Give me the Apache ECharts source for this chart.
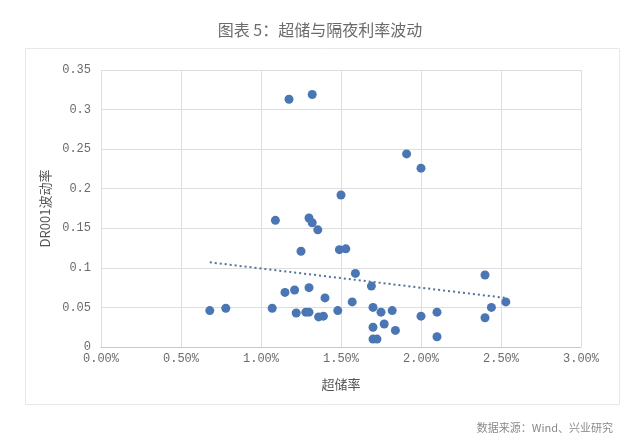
<!DOCTYPE html>
<html>
<head>
<meta charset="utf-8">
<script src="https://cdn.jsdelivr.net/npm/echarts@6/dist/echarts.min.js"></script>
<style>
html,body{margin:0;padding:0;background:#fff;}
#c{width:640px;height:442px;}
</style>
</head>
<body>
<div id="c"></div>
<script>
// 超储率 (%)
var excessReserve = [0.68,0.78,1.07,1.09,1.15,1.175,1.21,1.22,1.25,1.28,1.30,1.30,1.30,1.32,1.32,1.355,1.36,1.39,1.40,1.48,1.49,1.50,1.53,1.57,1.59,1.69,1.70,1.70,1.70,1.725,1.75,1.77,1.82,1.84,1.91,2.00,2.00,2.10,2.10,2.40,2.40,2.44,2.53];
// DR001波动率
var dr001Vol = [0.046,0.049,0.049,0.160,0.069,0.313,0.072,0.043,0.121,0.044,0.044,0.075,0.163,0.157,0.319,0.148,0.038,0.039,0.062,0.046,0.123,0.192,0.124,0.057,0.093,0.077,0.050,0.025,0.010,0.010,0.044,0.029,0.046,0.021,0.244,0.226,0.039,0.044,0.013,0.091,0.037,0.050,0.057];
// 趋势线端点
var trendX = [0.68, 2.53];
var trendY = [0.107, 0.062];

var xTicks = {min:0, max:3, step:0.5};
var yTicks = {min:0, max:0.35, step:0.05};

var titleText = '图表 5：超储与隔夜利率波动';
var sourceText = '数据来源：Wind、兴业研究';
var xName = '超储率';
var yName = 'DR001波动率';

var pts = excessReserve.map(function(x,i){return [x, dr001Vol[i]];});
var trend = trendX.map(function(x,i){return [x, trendY[i]];});

var chart = echarts.init(document.getElementById('c'), null, {renderer:'canvas'});
chart.setOption({
  animation:false,
  backgroundColor:'#fff',
  title:[{
    text:titleText, left:'center', top:17,
    textStyle:{fontSize:16, fontWeight:'normal', color:'#6b6b6b', fontFamily:'Noto Sans CJK SC'}
  },{
    text:sourceText, right:22, top:417,
    textStyle:{fontSize:11, fontWeight:'normal', color:'#8a8a8a', fontFamily:'Noto Sans CJK SC'}
  }],
  graphic:[{
    type:'rect', shape:{x:25.5,y:48.5,width:594,height:356},
    style:{fill:'none', stroke:'#e8e8e8', lineWidth:1}, silent:true, z:-1
  }],
  grid:{left:101, right:59, top:70, bottom:95},
  xAxis:{
    type:'value', min:xTicks.min, max:xTicks.max, interval:xTicks.step,
    name:xName, nameLocation:'middle', nameGap:31,
    nameTextStyle:{fontSize:13, color:'#555', fontFamily:'Noto Sans CJK SC'},
    axisLine:{show:true, lineStyle:{color:'#c8c8c8'}},
    axisTick:{show:false},
    splitLine:{show:true, lineStyle:{color:'#dedede'}},
    axisLabel:{fontSize:12, color:'#6b6b6b', fontFamily:'Liberation Mono', margin:6,
      formatter:function(v){return v.toFixed(2)+'%';}}
  },
  yAxis:{
    type:'value', min:yTicks.min, max:yTicks.max, interval:yTicks.step,
    name:yName, nameLocation:'middle', nameGap:47,
    nameTextStyle:{fontSize:13, color:'#555', fontFamily:'Noto Sans CJK SC'},
    axisLine:{show:false},
    axisTick:{show:false},
    splitLine:{show:true, lineStyle:{color:'#dedede'}},
    axisLabel:{fontSize:12, color:'#6b6b6b', fontFamily:'Liberation Mono', margin:10,
      formatter:function(v){return v===0?'0':String(+v.toFixed(2));}}
  },
  series:[{
    type:'scatter', data:pts, symbolSize:9,
    itemStyle:{color:'#4a76b3', opacity:1}
  },{
    type:'line', data:trend, symbol:'none',
    lineStyle:{color:'#55739a', width:2, type:[2,3]}
  }]
});
</script>
</body>
</html>
